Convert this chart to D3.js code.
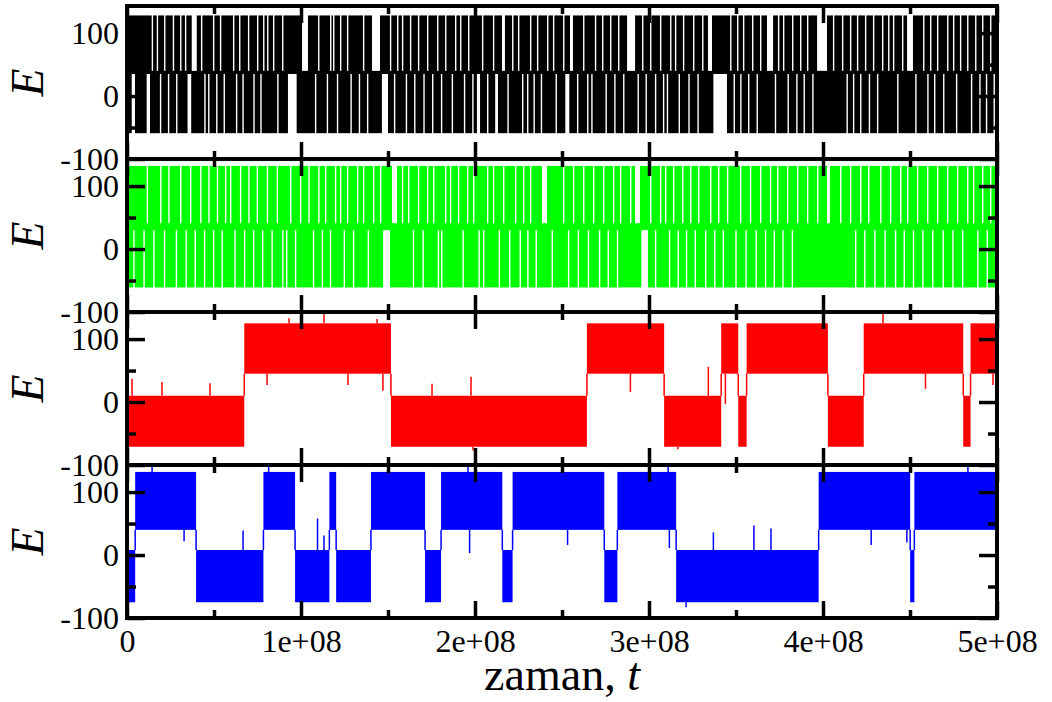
<!DOCTYPE html>
<html>
<head>
<meta charset="utf-8">
<script src="https://cdn.jsdelivr.net/npm/d3@7"></script>
<style>
  body { margin: 0; background: #fff; }
  svg text { font-family: "Liberation Serif", "Times New Roman", serif; }
</style>
</head>
<body>
<svg id="chart" width="1052" height="702"></svg>
<script>
// times below are in units of 1e6 steps
const T = 1e6;
const xTicks = [0, 1e8, 2e8, 3e8, 4e8, 5e8];
const xMinor = [0.5e8, 1.5e8, 2.5e8, 3.5e8, 4.5e8];
const yTicks = [-100, 0, 100];
const yMinor = [-50, 50];
const shortDwell = 0.8;

// energy bands of the two states: [lowMin, lowMax, highMin, highMax]
const blackBand = [-59, 40, 35, 128];
const greenBand = [-61, 41, 30, 132];
const redBand = [-71, 10, 45, 125];
const blueBand = [-75, 8, 40, 132];

// fast-switching runs: short stays in the low state (gap in upper half)
const blackLow = [14.2, 17.1, 21.3, 26.3, 30.5, 33.3, 42.5, 49.4, 53.4, 60.9, 64.4, 69.5, 74.7, 78.2, 80.5, 83.9, 89.1,
  109.8, 116.7, 118.4, 122.4, 126.4, 135.6, 151.1, 155.2, 158.0, 162.6, 167.2, 172.4, 178.2, 182.8, 188.5, 191.4, 196.0,
  204.0, 210.3, 221.3, 224.7, 231.6, 235.6, 241.4, 244.8, 250.6, 262.1, 268.9, 273.0, 277.6, 282.2, 296.0, 300.6, 306.3,
  312.1, 314.9, 319.5, 325.3, 330.5, 346.6, 350.6, 354.0, 359.2, 363.8, 374.1, 377.0, 382.2, 386.8, 390.8, 405.7, 410.9,
  415.5, 419.5, 424.1, 428.7, 433.9, 437.4, 440.2, 445.4, 457.5, 461.5, 465.5, 471.3, 474.7, 478.7, 482.8, 487.4, 491.4, 496.0];
const blackLowWide = [[37.2, 40.1], [100.6, 104.0], [140.8, 145.4], [215.5, 217.2], [254.6, 256.3], [287.4, 292.0],
  [333.9, 336.2], [367.8, 371.3], [396.6, 402.3], [448.3, 451.7]];
// short stays in the high state (gap in lower half)
const blackHigh = [18.9, 23.5, 28.2, 44.4, 46.6, 51.2, 55.5, 62.6, 66.3, 72.6, 76.6, 86.3, 108.0, 114.8, 120.6, 128.4,
  133.2, 137.9, 153.4, 160.2, 165.0, 170.3, 175.3, 180.4, 186.6, 193.6, 198.4, 206.9, 218.6, 227.0, 229.9, 233.6, 237.8,
  246.3, 258.6, 264.4, 266.8, 275.0, 280.0, 285.1, 293.4, 298.0, 303.4, 308.0, 310.2, 317.0, 322.6, 327.8, 348.6, 352.4,
  356.9, 361.8, 372.3, 379.6, 384.6, 388.8, 393.8, 413.5, 417.2, 421.3, 426.3, 431.0, 442.6, 453.0, 459.9, 463.8, 469.0,
  476.4, 485.0, 489.8, 493.6, 498.0];
const blackHighWide = [[2.7, 4.6], [11.3, 13.2], [34.8, 36.9], [92.5, 97.5], [146.5, 150.0], [201.1, 202.9],
  [211.6, 213.2], [251.9, 254.2], [337.0, 344.8]];

const greenLow = [11.3, 19.0, 23.7, 30.5, 36.2, 42.0, 46.7, 51.6, 56.3, 59.2, 64.9, 69.7, 74.5, 80.3, 86.0, 93.7, 99.4,
  104.2, 109.9, 113.8, 119.5, 122.4, 126.4, 132.2, 135.6, 141.4, 145.4, 158.0, 161.5, 167.2, 172.4, 175.9, 182.8, 185.6,
  190.2, 195.4, 198.9, 206.9, 210.3, 216.1, 223.0, 227.6, 231.6, 250.6, 256.3, 262.1, 267.8, 273.6, 279.3, 283.3, 289.1,
  300.6, 306.3, 309.2, 313.8, 319.0, 323.6, 328.2, 335.1, 339.7, 344.8, 352.3, 358.0, 363.8, 369.5, 373.6, 379.3, 385.1,
  390.8, 396.6, 409.8, 415.5, 421.3, 425.9, 432.8, 438.5, 444.3, 448.3, 454.0, 459.8, 465.5, 471.3, 477.0, 482.8, 486.2,
  491.4, 496.0];
const greenLowWide = [[152.3, 155.2], [238.5, 241.4], [292.0, 294.8], [402.3, 404.0]];
const greenHigh = [3.6, 9.4, 15.1, 21.2, 28.0, 33.6, 38.8, 44.2, 49.4, 54.3, 61.7, 67.2, 72.4, 77.6, 83.0, 89.2, 91.4,
  96.5, 106.8, 111.9, 116.6, 124.5, 129.8, 138.3, 164.2, 169.8, 178.6, 180.5, 192.8, 202.0, 204.6, 213.6, 219.6, 225.6,
  230.0, 234.8, 244.0, 253.4, 259.0, 264.8, 271.2, 276.2, 281.5, 303.4, 311.4, 316.4, 321.2, 326.2, 332.2, 337.4, 342.3,
  349.6, 355.4, 361.2, 366.6, 371.6, 376.6, 382.0, 418.4, 423.6, 429.4, 435.3, 441.3, 446.3, 451.6, 457.0, 462.7, 468.7,
  474.3, 479.9, 488.6, 494.0];
const greenHighWide = [[147.2, 151.1], [295.6, 299.4]];

// slow-switching runs: switch times and the state held after each one
const redTimes = [0, 67.4, 151.7, 264.3, 308.7, 341.5, 351.3, 356.1, 402.8, 423.4, 480.6, 484.8, 500];
const redStates = ["low", "high", "low", "high", "low", "high", "low", "high", "low", "high", "low", "high"];
const blueTimes = [0, 4.7, 39.7, 78.4, 96.6, 116.3, 120.2, 140.2, 171.3, 180.5, 215.7, 221.6, 274.3, 281.8, 315.6,
  397.5, 450.1, 452.5, 500];
const blueStates = ["low", "high", "low", "high", "low", "high", "low", "high", "low", "high", "low", "high", "low",
  "high", "low", "high", "low", "high"];

// largest excursions outside the bands: [time, E]
const redSpikes = [[2.9, 37], [20.1, 32], [47.7, 30], [80.5, 27], [93.1, 133], [113.2, 140], [127.0, 27], [143.7, 132],
  [147.1, 18], [175.3, 29], [197.7, 40], [198.9, -77], [289.3, 16], [316.6, -75], [334.1, 56], [343.9, -3],
  [434.5, 141], [458.9, 21], [497.7, 27]];
const blueSpikes = [[14.4, 147], [32.8, 22], [66.7, 39], [81.4, 147], [109.5, 58], [113.2, 31], [196.0, 144],
  [196.9, 3], [253.2, 16], [311.0, 144], [311.7, 11], [321.3, -83], [337.0, 36], [360.3, 47], [370.1, 42],
  [427.7, 16], [448.2, 20], [483.3, 147]];

const panels = [
  { kind: "fast", color: "#000000", band: blackBand, low: blackLow, lowWide: blackLowWide, high: blackHigh, highWide: blackHighWide },
  { kind: "fast", color: "#00ff00", band: greenBand, low: greenLow, lowWide: greenLowWide, high: greenHigh, highWide: greenHighWide },
  { kind: "slow", color: "#ff0000", band: redBand, times: redTimes, states: redStates, spikes: redSpikes },
  { kind: "slow", color: "#0000ff", band: blueBand, times: blueTimes, states: blueStates, spikes: blueSpikes }
];

const plotLeft = 127, plotRight = 997, plotTop = 6, panelH = 153;
const svg = d3.select("#chart");
const x = d3.scaleLinear().domain([0, 5e8]).range([plotLeft, plotRight]);
const defs = svg.append("defs");
const serif = "'Liberation Serif', 'Times New Roman', serif";

panels.forEach((p, i) => {
  const y0 = plotTop + i * panelH;
  const y = d3.scaleLinear().domain([-100, 143]).range([y0 + panelH, y0]);
  const [lowMin, lowMax, highMin, highMax] = p.band;

  defs.append("clipPath").attr("id", `clip${i}`)
    .append("rect").attr("x", plotLeft).attr("y", y0).attr("width", plotRight - plotLeft).attr("height", panelH);
  const g = svg.append("g").attr("clip-path", `url(#clip${i})`);

  if (p.kind === "fast") {
    g.append("rect")
      .attr("x", x(0)).attr("width", x(5e8) - x(0))
      .attr("y", y(highMax)).attr("height", y(lowMin) - y(highMax))
      .attr("fill", p.color);
    const lowRuns = p.low.map(t => [t, t + shortDwell]).concat(p.lowWide);
    const highRuns = p.high.map(t => [t, t + shortDwell]).concat(p.highWide);
    g.selectAll(".lowRun").data(lowRuns).join("rect")
      .attr("class", "lowRun")
      .attr("x", d => x(d[0] * T)).attr("width", d => x(d[1] * T) - x(d[0] * T))
      .attr("y", y(highMax) - 1).attr("height", y(lowMax) - y(highMax) + 1)
      .attr("fill", "#fff");
    g.selectAll(".highRun").data(highRuns).join("rect")
      .attr("class", "highRun")
      .attr("x", d => x(d[0] * T)).attr("width", d => x(d[1] * T) - x(d[0] * T))
      .attr("y", y(highMin)).attr("height", y(lowMin) - y(highMin) + 1)
      .attr("fill", "#fff");
  } else {
    const segs = p.states.map((s, k) => ({ s, t0: p.times[k], t1: p.times[k + 1] }));
    g.selectAll(".seg").data(segs).join("rect")
      .attr("class", "seg")
      .attr("x", d => x(d.t0 * T)).attr("width", d => x(d.t1 * T) - x(d.t0 * T))
      .attr("y", d => y(d.s === "low" ? lowMax : highMax))
      .attr("height", d => d.s === "low" ? y(lowMin) - y(lowMax) : y(highMin) - y(highMax))
      .attr("fill", p.color);
    g.selectAll(".jump").data(p.times.slice(1, -1)).join("line")
      .attr("class", "jump")
      .attr("x1", d => x(d * T)).attr("x2", d => x(d * T))
      .attr("y1", y(lowMax)).attr("y2", y(highMin))
      .attr("stroke", p.color).attr("stroke-width", 1.5);

    // each spike starts at the edge of the band the run is in at that time
    const stateAt = t => p.states[Math.max(0, d3.bisectRight(p.times, t) - 1)];
    const spikeBase = ([t, v]) => {
      const [lo, hi] = stateAt(t) === "low" ? [lowMin, lowMax] : [highMin, highMax];
      return v > hi ? hi : lo;
    };
    g.selectAll(".spike").data(p.spikes).join("line")
      .attr("class", "spike")
      .attr("x1", d => x(d[0] * T)).attr("x2", d => x(d[0] * T))
      .attr("y1", d => y(spikeBase(d))).attr("y2", d => y(d[1]))
      .attr("stroke", p.color).attr("stroke-width", 1.5);
  }

  // inward ticks on all four sides
  const tickStyle = sel => {
    sel.select(".domain").remove();
    sel.selectAll("line").attr("stroke", "#000").attr("stroke-width", 3.5);
  };
  const labelStyle = sel => sel.selectAll("text")
    .attr("font-size", 32).attr("fill", "#000").attr("font-family", serif);

  svg.append("g").attr("transform", `translate(${plotLeft},0)`)
    .call(d3.axisLeft(y).tickValues(yTicks).tickSizeInner(-18).tickSizeOuter(0).tickPadding(8)
      .tickFormat(d => String(d)))
    .call(tickStyle).call(labelStyle);
  svg.append("g").attr("transform", `translate(${plotLeft},0)`)
    .call(d3.axisLeft(y).tickValues(yMinor).tickSizeInner(-9).tickSizeOuter(0).tickFormat(""))
    .call(tickStyle);
  svg.append("g").attr("transform", `translate(${plotRight},0)`)
    .call(d3.axisRight(y).tickValues(yTicks).tickSizeInner(-18).tickSizeOuter(0).tickFormat(""))
    .call(tickStyle);
  svg.append("g").attr("transform", `translate(${plotRight},0)`)
    .call(d3.axisRight(y).tickValues(yMinor).tickSizeInner(-9).tickSizeOuter(0).tickFormat(""))
    .call(tickStyle);
  svg.append("g").attr("transform", `translate(0,${y0})`)
    .call(d3.axisTop(x).tickValues(xTicks).tickSizeInner(-17).tickSizeOuter(0).tickFormat(""))
    .call(tickStyle);
  svg.append("g").attr("transform", `translate(0,${y0})`)
    .call(d3.axisTop(x).tickValues(xMinor).tickSizeInner(-8).tickSizeOuter(0).tickFormat(""))
    .call(tickStyle);
  svg.append("g").attr("transform", `translate(0,${y0 + panelH})`)
    .call(d3.axisBottom(x).tickValues(xTicks).tickSizeInner(-17).tickSizeOuter(0)
      .tickPadding(11).tickFormat(i === 3 ? (d => d === 0 ? "0" : `${d / 1e8}e+08`) : ""))
    .call(tickStyle).call(labelStyle);
  svg.append("g").attr("transform", `translate(0,${y0 + panelH})`)
    .call(d3.axisBottom(x).tickValues(xMinor).tickSizeInner(-8).tickSizeOuter(0).tickFormat(""))
    .call(tickStyle);

  svg.append("rect")
    .attr("x", plotLeft).attr("y", y0).attr("width", plotRight - plotLeft).attr("height", panelH)
    .attr("fill", "none").attr("stroke", "#000").attr("stroke-width", 4);

  svg.append("text")
    .attr("transform", `translate(43,${y0 + panelH / 2}) rotate(-90)`)
    .attr("text-anchor", "middle")
    .attr("font-size", 46).attr("font-style", "italic")
    .text("E");
});

const xLabel = svg.append("text")
  .attr("x", (plotLeft + plotRight) / 2).attr("y", 690)
  .attr("text-anchor", "middle").attr("font-size", 46);
xLabel.append("tspan").text("zaman, ");
xLabel.append("tspan").attr("font-style", "italic").text("t");
</script>
</body>
</html>
